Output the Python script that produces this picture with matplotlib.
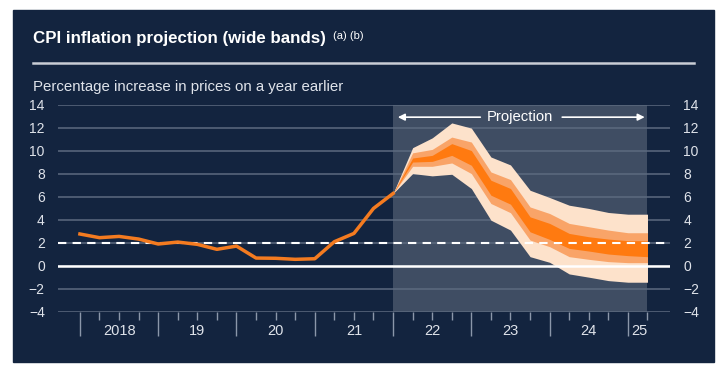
import numpy as np
import matplotlib
matplotlib.use("Agg")
import matplotlib.pyplot as plt
from matplotlib.patches import Rectangle
from matplotlib.transforms import blended_transform_factory

plt.rcParams['font.family'] = ['Liberation Sans', 'DejaVu Sans']

# CPI inflation, quarterly from 2018 Q1 (index 0) to 2022 Q1 (index 16)
hist = [2.75, 2.43, 2.54, 2.31, 1.88, 2.05, 1.85, 1.42, 1.70,
        0.66, 0.64, 0.55, 0.60, 2.08, 2.80, 4.97, 6.27]

# projection bands, index 16 .. 29
outer_hi = [6.27, 10.25, 11.1, 12.4, 11.95, 9.44, 8.75, 6.55, 5.92, 5.25, 4.97, 4.62, 4.47, 4.47]
mid_hi = [6.27, 9.8, 10.1, 11.17, 10.74, 8.14, 7.48, 5.1, 4.53, 3.67, 3.38, 3.09, 2.86, 2.86]
inner_hi = [6.27, 9.35, 9.58, 10.6, 10.0, 7.42, 6.7, 4.24, 3.67, 2.8, 2.51, 2.31, 2.17, 2.17]
inner_lo = [6.27, 9.0, 9.06, 9.58, 8.72, 6.12, 5.34, 2.94, 2.28, 1.5, 1.27, 1.01, 0.87, 0.78]
mid_lo = [6.27, 8.63, 8.63, 8.92, 8.0, 5.4, 4.6, 2.22, 1.65, 0.78, 0.55, 0.35, 0.26, 0.26]
outer_lo = [6.27, 8.0, 7.8, 7.94, 6.7, 3.95, 3.09, 0.78, 0.29, -0.72, -1.0, -1.3, -1.44, -1.44]

year_labels = ['2018', '19', '20', '21', '22', '23', '24', '25']
year_pos = [2, 6, 10, 14, 18, 22, 26, 28.6]
target = 2

navy = '#13243f'
shade = '#3f4d63'
grid_c = '#5d6a7f'
tick_c = '#8b97aa'
text_c = '#dfe3ea'
orange = '#f47b20'

fig = plt.figure(figsize=(7.25, 3.75), dpi=100, facecolor='white')
fig.patches.append(Rectangle((13 / 725, 1 - 362 / 375), 701 / 725, 352 / 375,
                             transform=fig.transFigure, color=navy, zorder=0))

ax = fig.add_axes([58 / 725, 1 - 311.7 / 375, 612 / 725, 207.2 / 375])
ax.set_zorder(2)
ax.set_facecolor(navy)

proj_x = np.arange(16, 16 + len(outer_hi))
ax.axvspan(16, 29, color=shade, zorder=0, lw=0)

ax.fill_between(proj_x, outer_lo, outer_hi, color='#fde2cb', lw=0, zorder=3)
ax.fill_between(proj_x, mid_lo, mid_hi, color='#f9a468', lw=0, zorder=3)
ax.fill_between(proj_x, inner_lo, inner_hi, color='#ff7a10', lw=0, zorder=3)

ax.axhline(0, color='white', lw=1.8, zorder=4)
ax.axhline(target, color='white', lw=1.5, ls=(0, (4, 3)), zorder=4)
ax.plot(np.arange(len(hist)), hist, color=orange, lw=2.5, zorder=5,
        solid_joinstyle='round')

ax.set_xlim(-1.12, 30.15)
ax.set_ylim(-4, 14)
ax.set_yticks(range(-4, 15, 2))
ax.yaxis.grid(True, color=grid_c, lw=1.1)
for gl in ax.yaxis.get_gridlines():
    gl.set_zorder(1)
for s in ax.spines.values():
    s.set_visible(False)

ax.tick_params(axis='y', left=False, right=False, labelleft=True, labelright=True,
               labelsize=10, labelcolor=text_c, pad=6)

ax.set_xticks(list(range(0, 29, 4)))
ax.set_xticks([i for i in range(0, 30) if i % 4 != 0], minor=True)
ax.tick_params(axis='x', which='major', length=17, width=1, color=tick_c,
               labelbottom=False)
ax.tick_params(axis='x', which='minor', length=5.5, width=1, color=tick_c)

tr = blended_transform_factory(ax.transData, ax.transAxes)
for lab, pos in zip(year_labels, year_pos):
    ax.text(pos, -0.093, lab, transform=tr, ha='center', va='center',
            fontsize=10.5, color=text_c)

# projection arrow label
ax.text(22.5, 12.9, 'Projection', ha='center', va='center', fontsize=10.7,
        color='white', zorder=6)
arrow = dict(arrowstyle='-|>', color='white', lw=1.2, mutation_scale=10)
ax.annotate('', xy=(16.1, 12.9), xytext=(20.6, 12.9), arrowprops=arrow, zorder=6)
ax.annotate('', xy=(29.0, 12.9), xytext=(24.5, 12.9), arrowprops=arrow, zorder=6)

# title block
fig.text(33 / 725, 1 - 43 / 375, 'CPI inflation projection (wide bands)',
         fontsize=12.2, fontweight='bold', color='white', va='baseline')
fig.text(333 / 725, 1 - 39 / 375, '(a) (b)', fontsize=8, color='white',
         va='baseline')
fig.add_artist(plt.Line2D([33 / 725, 694 / 725], [1 - 63 / 375, 1 - 63 / 375],
                          transform=fig.transFigure, color='#c9cdd5', lw=1.8))
fig.text(33 / 725, 1 - 91 / 375, 'Percentage increase in prices on a year earlier',
         fontsize=10.8, color=text_c, va='baseline')

fig.savefig('out.png', dpi=100, facecolor='white')
